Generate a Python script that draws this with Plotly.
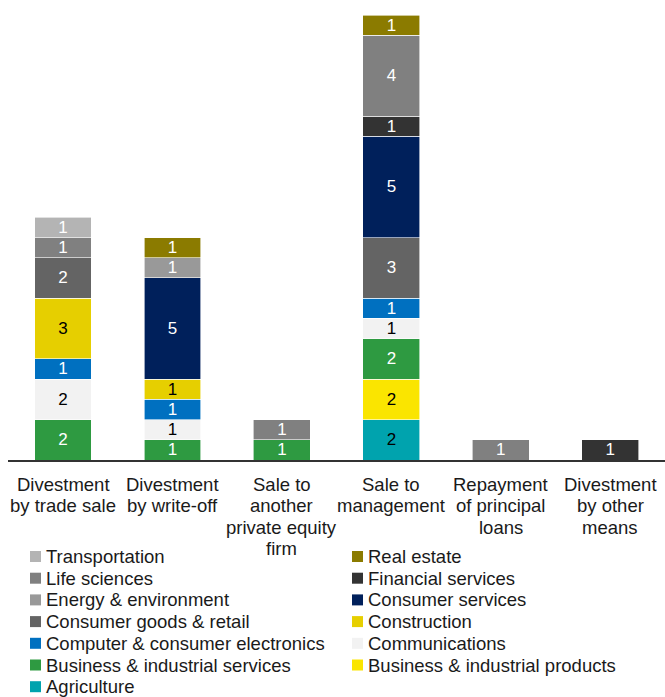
import plotly.graph_objects as go

categories = [
    "Divestment<br>by trade sale",
    "Divestment<br>by write-off",
    "Sale to<br>another<br>private equity<br>firm",
    "Sale to<br>management",
    "Repayment<br>of principal<br>loans",
    "Divestment<br>by other<br>means",
]

# Sectors listed bottom of stack first
sectors = [
    "Agriculture",
    "Business & industrial products",
    "Business & industrial services",
    "Communications",
    "Computer & consumer electronics",
    "Construction",
    "Consumer goods & retail",
    "Consumer services",
    "Energy & environment",
    "Financial services",
    "Life sciences",
    "Real estate",
    "Transportation",
]

agriculture = [0, 0, 0, 2, 0, 0]
business_industrial_products = [0, 0, 0, 2, 0, 0]
business_industrial_services = [2, 1, 1, 2, 0, 0]
communications = [2, 1, 0, 1, 0, 0]
computer_electronics = [1, 1, 0, 1, 0, 0]
construction = [3, 1, 0, 0, 0, 0]
consumer_goods_retail = [2, 0, 0, 3, 0, 0]
consumer_services = [0, 5, 0, 5, 0, 0]
energy_environment = [0, 1, 0, 0, 0, 0]
financial_services = [0, 0, 0, 1, 0, 1]
life_sciences = [1, 0, 1, 4, 1, 0]
real_estate = [0, 1, 0, 1, 0, 0]
transportation = [1, 0, 0, 0, 0, 0]

values = [
    agriculture,
    business_industrial_products,
    business_industrial_services,
    communications,
    computer_electronics,
    construction,
    consumer_goods_retail,
    consumer_services,
    energy_environment,
    financial_services,
    life_sciences,
    real_estate,
    transportation,
]

colors = [
    "#00a3ae", "#fae500", "#2e9a41", "#f2f2f2", "#0070c0", "#e6cf00",
    "#646464", "#00205b", "#999999", "#333333", "#808080", "#8b7b00",
    "#b4b4b4",
]
label_colors = [
    "black", "black", "white", "black", "white", "black",
    "white", "white", "white", "white", "white", "white", "white",
]

FONT = "Liberation Sans, Arial"
TEXT_COLOR = "#1a1a1a"

# Figure geometry in pixels
W, H = 665, 697
ML, MR, MT, MB = 8, 0, 15, 237
PW, PH = W - ML - MR, H - MT - MB


def px_x(px):
    return (px - ML) / PW


def px_y(py):
    return (H - MB - py) / PH


fig = go.Figure()
for name, vals, col, lc in zip(sectors, values, colors, label_colors):
    fig.add_trace(go.Bar(
        name=name,
        x=categories,
        y=[v if v else None for v in vals],
        marker=dict(color=col, line=dict(color="white", width=0.6)),
        text=[str(v) if v else "" for v in vals],
        textposition="inside",
        insidetextanchor="middle",
        textangle=0,
        textfont=dict(color=lc, size=17, family=FONT),
        constraintext="none",
        showlegend=False,
    ))

# Category labels, one annotation per line for tight line spacing
annotations = []
for cat in categories:
    for i, line in enumerate(cat.split("<br>")):
        annotations.append(dict(
            x=cat, xref="x", y=0, yref="paper",
            text=line, showarrow=False,
            xanchor="center", yanchor="middle",
            yshift=-(24 + 21.5 * i),
            font=dict(size=18.5, family=FONT, color=TEXT_COLOR),
        ))

# Two-column legend drawn beneath the chart
shapes = []
legend_order = list(reversed(range(len(sectors))))
for k, idx in enumerate(legend_order):
    row, colno = divmod(k, 2)
    cy = 556.5 + 21.7 * row
    sx = 30 if colno == 0 else 352
    tx = 44 if colno == 0 else 366
    shapes.append(dict(
        type="rect", xref="paper", yref="paper",
        x0=px_x(sx), x1=px_x(sx + 11),
        y0=px_y(cy + 5.5), y1=px_y(cy - 5.5),
        fillcolor=colors[idx], line=dict(width=0),
    ))
    annotations.append(dict(
        x=px_x(tx), xref="paper", y=px_y(cy), yref="paper",
        text=sectors[idx], showarrow=False,
        xanchor="left", yanchor="middle",
        font=dict(size=18.5, family=FONT, color=TEXT_COLOR),
    ))

fig.update_layout(
    width=W,
    height=H,
    barmode="stack",
    bargap=0.48,
    plot_bgcolor="white",
    paper_bgcolor="white",
    margin=dict(l=ML, r=MR, t=MT, b=MB, autoexpand=False),
    font=dict(family=FONT, size=18.5, color=TEXT_COLOR),
    uniformtext=dict(minsize=14, mode="show"),
    xaxis=dict(
        showline=True, linecolor="#333333", linewidth=2,
        ticks="", showticklabels=False,
    ),
    yaxis=dict(range=[0, 22], visible=False),
    showlegend=False,
    annotations=annotations,
    shapes=shapes,
)

fig.write_html("out.html")
